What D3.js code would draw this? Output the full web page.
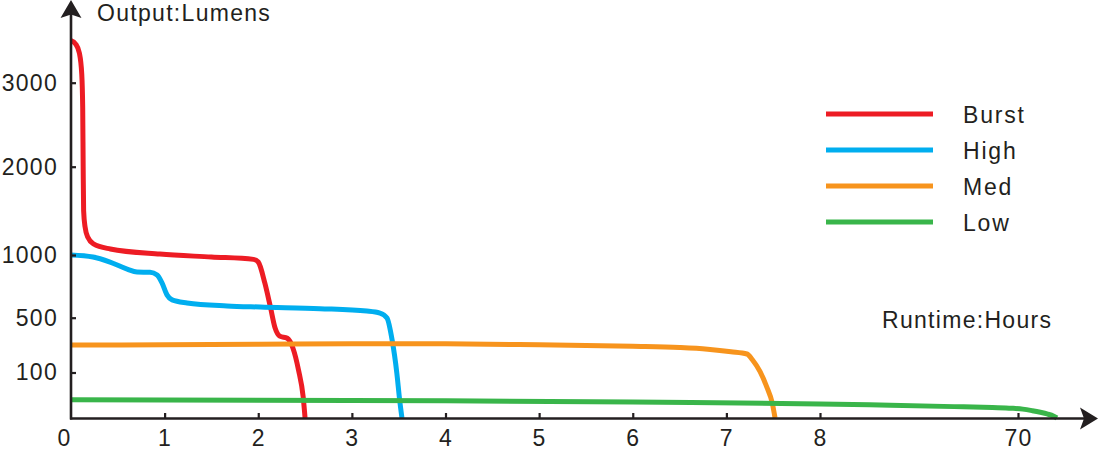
<!DOCTYPE html>
<html>
<head>
<meta charset="utf-8">
<script src="https://cdn.jsdelivr.net/npm/d3@7/dist/d3.min.js"></script>
<style>
  html, body { margin: 0; padding: 0; background: #fff; }
  svg { display: block; }
  text { font-family: "Liberation Sans", Arial, Helvetica, sans-serif; fill: #231f20; }
</style>
</head>
<body>
<svg id="chart" width="1100" height="452"></svg>
<script>
// ---- data ----
const seriesNames = ["Burst", "High", "Med", "Low"];
const seriesColors = ["#ed1c24", "#00aeef", "#f7941d", "#39b54a"];

// [hours, lumens]
const burst = [
  [0, 3500], [0.05, 3460], [0.09, 3350], [0.115, 3100], [0.125, 2700], [0.13, 2000],
  [0.135, 1500], [0.15, 1320], [0.18, 1200], [0.24, 1125], [0.42, 1068], [0.95, 1010],
  [1.5, 984], [1.95, 965], [2.0, 944], [2.07, 777], [2.13, 585], [2.18, 425],
  [2.23, 366], [2.31, 350], [2.37, 279], [2.43, 118], [2.48, 46], [2.5, 0]
];
const high = [
  [0, 1000], [0.235, 984], [0.417, 944], [0.6, 888], [0.705, 864], [0.844, 862],
  [0.92, 840], [0.972, 777], [1.025, 682], [1.08, 642], [1.24, 618], [1.666, 594],
  [2.02, 585], [2.66, 572], [3.16, 553], [3.3, 537], [3.375, 498], [3.43, 337],
  [3.48, 99], [3.51, 40], [3.535, 0]
];
const med = [
  [0, 300], [1, 303], [2, 307], [3, 310], [4, 309], [5, 302], [6, 291], [6.5, 282],
  [6.8, 270], [7.05, 252], [7.22, 235], [7.28, 191], [7.36, 106], [7.43, 69],
  [7.49, 33], [7.52, 0]
];
const low = [
  [0, 40], [4, 38], [6, 35], [8, 31], [30, 28], [50, 25], [62, 23], [68, 21.5],
  [71.5, 19.5], [74.5, 16], [77, 12.5], [79.1, 9], [81.2, 4], [82.2, 0]
];
const seriesData = [burst, high, med, low];

const xTicks = [0, 1, 2, 3, 4, 5, 6, 7, 8, 70];
const yTicks = [100, 500, 1000, 2000, 3000];
const yTitle = "Output:Lumens";
const xTitle = "Runtime:Hours";

// ---- scales (broken / piecewise axes) ----
const x = d3.scaleLinear().domain([0, 8, 70]).range([71, 820, 1018]);
const y = d3.scaleLinear().domain([0, 100, 500, 1000, 2000, 3000])
  .range([418, 372.5, 317.7, 255, 166.7, 82.7]);

const svg = d3.select("#chart");
const ink = "#231f20";
const fontSize = 23;
const spacing = "1.3px";

// ---- series ----
const line = d3.line().x(d => x(d[0])).y(d => y(d[1])).curve(d3.curveMonotoneX);
svg.append("g").selectAll("path").data(seriesData).join("path")
  .attr("d", line)
  .attr("fill", "none")
  .attr("stroke", (d, i) => seriesColors[i])
  .attr("stroke-width", 5)
  .attr("stroke-linejoin", "round")
  .attr("stroke-linecap", "butt");

// ---- axes ----
const x0 = x(0), y0 = y(0);
const gx = svg.append("g").attr("transform", `translate(0,${y0})`)
  .call(d3.axisBottom(x).tickValues(xTicks).tickSize(-5).tickPadding(12).tickFormat(d3.format("d")));
gx.select(".domain").remove();
gx.selectAll(".tick line").attr("stroke", ink).attr("stroke-width", 2.2)
  .filter(d => d === 0).remove();
gx.selectAll(".tick text").attr("font-size", fontSize).attr("font-family", null)
  .style("letter-spacing", spacing).attr("fill", ink)
  .attr("dx", d => d === 0 ? -7 : 0);

const gy = svg.append("g").attr("transform", `translate(${x0},0)`)
  .call(d3.axisLeft(y).tickValues(yTicks).tickSize(-5).tickPadding(13).tickFormat(d3.format("d")));
gy.select(".domain").remove();
gy.selectAll(".tick line").attr("stroke", ink).attr("stroke-width", 2.2);
gy.selectAll(".tick text").attr("font-size", fontSize).attr("font-family", null)
  .style("letter-spacing", spacing).attr("fill", ink);

// axis lines with arrow heads
svg.append("line").attr("x1", x0 - 1).attr("x2", 1085).attr("y1", y0 + 0.5).attr("y2", y0 + 0.5)
  .attr("stroke", ink).attr("stroke-width", 2.6);
svg.append("line").attr("x1", x0).attr("x2", x0).attr("y1", y0 + 1.5).attr("y2", 12)
  .attr("stroke", ink).attr("stroke-width", 2.6);
const ax = 1098, ay = y0 + 0.5;
svg.append("path")
  .attr("d", `M${ax},${ay} L${ax - 18},${ay - 11} L${ax - 14},${ay} L${ax - 18},${ay + 11} Z`)
  .attr("fill", ink);
svg.append("path")
  .attr("d", `M${x0},0 L${x0 + 10.5},18 L${x0},14.5 L${x0 - 10.5},18 Z`)
  .attr("fill", ink);

// titles
svg.append("text").attr("x", 97).attr("y", 21).attr("font-size", fontSize)
  .style("letter-spacing", spacing).text(yTitle);
svg.append("text").attr("x", 882).attr("y", 328).attr("font-size", fontSize)
  .style("letter-spacing", spacing).text(xTitle);

// ---- legend ----
const lg = svg.append("g").selectAll("g").data(seriesNames).join("g")
  .attr("transform", (d, i) => `translate(0,${114 + i * 36})`);
lg.append("line").attr("x1", 826).attr("x2", 933).attr("y1", 0).attr("y2", 0)
  .attr("stroke", (d, i) => seriesColors[i]).attr("stroke-width", 5);
lg.append("text").attr("x", 963).attr("y", 9).attr("font-size", fontSize)
  .style("letter-spacing", "1.8px").text(d => d);
</script>
</body>
</html>
